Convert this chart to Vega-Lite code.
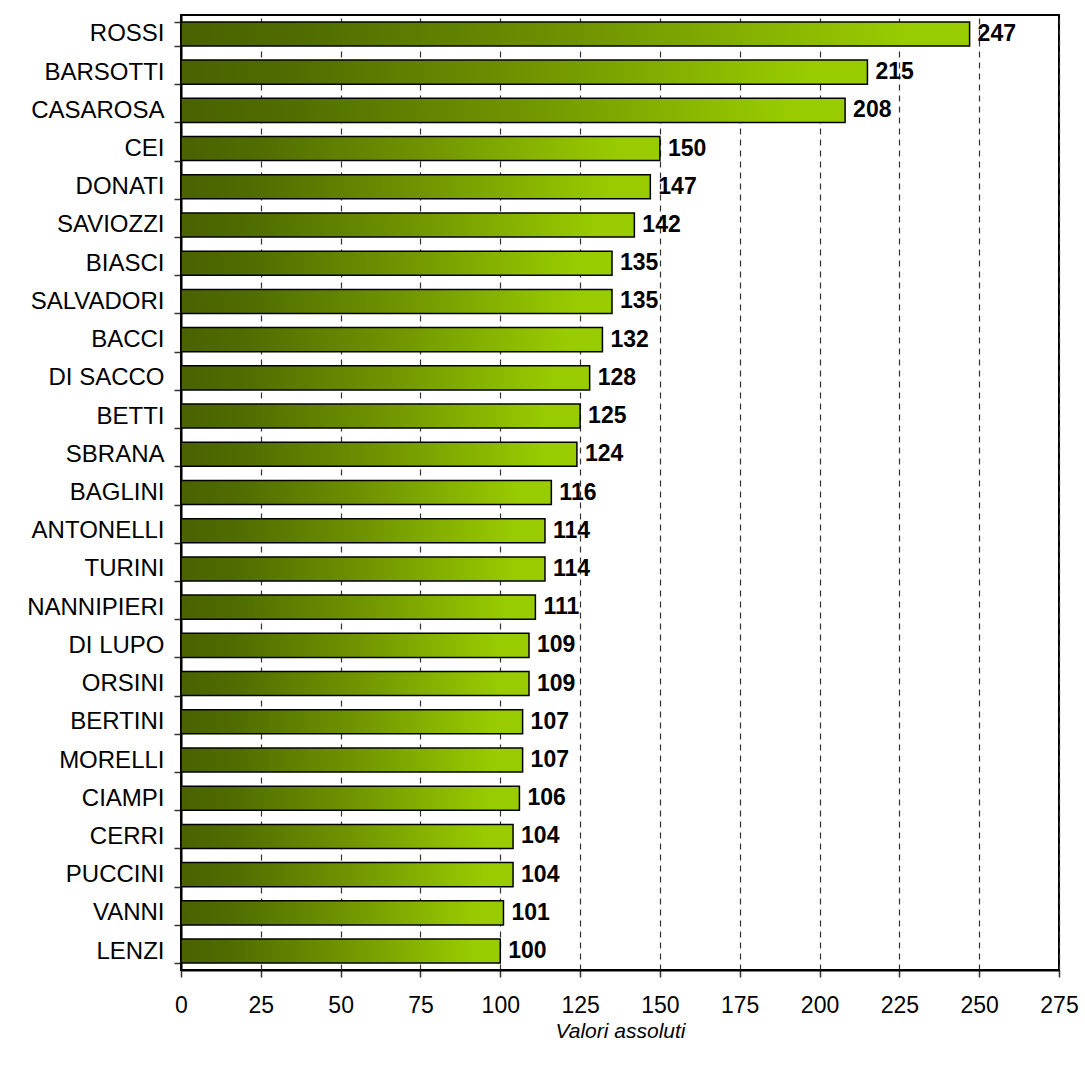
{
  "$schema": "https://vega.github.io/schema/vega-lite/v6.json",
  "autosize": "none",
  "width": 878,
  "height": 955,
  "padding": {"left": 181, "top": 15, "right": 26, "bottom": 104},
  "background": "white",
  "config": {
    "font": "Liberation Sans",
    "view": {"stroke": "black", "strokeWidth": 2},
    "axis": {"domainColor": "black", "domainWidth": 2, "tickColor": "#333", "tickWidth": 1.5, "labelColor": "black", "labelFontSize": 24, "labelFont": "Liberation Sans"}
  },
  "data": {"values": [
    {"name": "ROSSI", "value": 247},
    {"name": "BARSOTTI", "value": 215},
    {"name": "CASAROSA", "value": 208},
    {"name": "CEI", "value": 150},
    {"name": "DONATI", "value": 147},
    {"name": "SAVIOZZI", "value": 142},
    {"name": "BIASCI", "value": 135},
    {"name": "SALVADORI", "value": 135},
    {"name": "BACCI", "value": 132},
    {"name": "DI SACCO", "value": 128},
    {"name": "BETTI", "value": 125},
    {"name": "SBRANA", "value": 124},
    {"name": "BAGLINI", "value": 116},
    {"name": "ANTONELLI", "value": 114},
    {"name": "TURINI", "value": 114},
    {"name": "NANNIPIERI", "value": 111},
    {"name": "DI LUPO", "value": 109},
    {"name": "ORSINI", "value": 109},
    {"name": "BERTINI", "value": 107},
    {"name": "MORELLI", "value": 107},
    {"name": "CIAMPI", "value": 106},
    {"name": "CERRI", "value": 104},
    {"name": "PUCCINI", "value": 104},
    {"name": "VANNI", "value": 101},
    {"name": "LENZI", "value": 100}
  ]},
  "encoding": {
    "y": {
      "field": "name", "type": "nominal", "sort": null,
      "scale": {"paddingInner": 0.37, "paddingOuter": 0.18},
      "axis": {"title": null, "tickBand": "extent", "tickSize": 7, "labelPadding": 10, "grid": false, "labelFontSize": 24}
    },
    "x": {
      "field": "value", "type": "quantitative",
      "scale": {"domain": [0, 275], "nice": false},
      "axis": {
        "values": [0, 25, 50, 75, 100, 125, 150, 175, 200, 225, 250, 275],
        "labelFontSize": 23, "labelFlush": false, "labelOverlap": false,
        "title": "Valori assoluti", "titleFontStyle": "italic", "titleFontWeight": "normal",
        "titleFontSize": 21, "titleColor": "black", "titlePadding": 3,
        "tickSize": 7, "labelPadding": 17,
        "grid": true, "gridColor": "#333", "gridDash": [6, 5], "gridWidth": 1.2
      }
    }
  },
  "layer": [
    {
      "mark": {
        "type": "bar", "stroke": "black", "strokeWidth": 1.5,
        "color": {"gradient": "linear", "x1": 0, "y1": 0, "x2": 1, "y2": 0,
          "stops": [{"offset": 0, "color": "#4a6200"}, {"offset": 0.15, "color": "#4f6c00"}, {"offset": 0.5, "color": "#6f9300"}, {"offset": 0.92, "color": "#99cc00"}, {"offset": 1, "color": "#99cc00"}]}
      }
    },
    {
      "mark": {"type": "text", "align": "left", "baseline": "middle", "dx": 8, "fontWeight": "bold", "fontSize": 23, "color": "black"},
      "encoding": {"text": {"field": "value", "type": "quantitative"}}
    }
  ]
}
